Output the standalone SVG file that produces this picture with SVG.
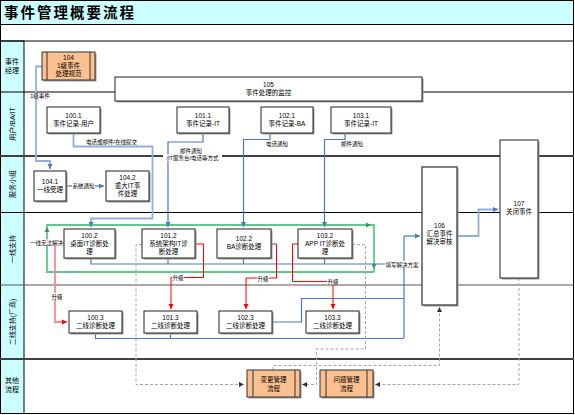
<svg xmlns="http://www.w3.org/2000/svg" width="575" height="415" viewBox="0 0 575 415">
<defs>
<style>
text{font-family:"Liberation Sans","Noto Sans CJK SC",sans-serif;fill:#000}
.t{font-size:6.5px;text-anchor:middle}
.l{font-size:5.5px;text-anchor:middle}
.ln{font-size:7px;text-anchor:middle}
.box{fill:#fff;stroke:#222;stroke-width:1}
.sh{fill:#9a9a9a}
.org{fill:#fac08f;stroke:#333;stroke-width:1}
.blu{fill:none;stroke:#4a78c2;stroke-width:1.2}
.lbl{fill:none;stroke:#8fb0dc;stroke-width:1.8}
.grn{fill:none;stroke:#5ccb86;stroke-width:1.8}
.red{fill:none;stroke:#f00;stroke-width:1}
.pnk{fill:none;stroke:#f88;stroke-width:1.8}
.dsh{fill:none;stroke:#a6a6a6;stroke-width:1;stroke-dasharray:3 2}
.bg{fill:#fff}
</style>
<marker id="ab" markerWidth="6" markerHeight="6" refX="5" refY="3" orient="auto" markerUnits="userSpaceOnUse"><path d="M0,0.5 L5,3 L0,5.5z" fill="#4a78c2"/></marker>
<marker id="ar" markerWidth="6" markerHeight="6" refX="5" refY="3" orient="auto" markerUnits="userSpaceOnUse"><path d="M0,0.5 L5,3 L0,5.5z" fill="#f00"/></marker>
<marker id="ad" markerWidth="6" markerHeight="6" refX="5" refY="3" orient="auto" markerUnits="userSpaceOnUse"><path d="M0,0.5 L5,3 L0,5.5z" fill="#333"/></marker>
</defs>

<!-- frame and lanes -->
<g id="frame">
<rect x="0.5" y="0.5" width="573" height="413" fill="#fff" stroke="#000"/>
<rect x="0.5" y="0.5" width="573" height="24" fill="#ccffff" stroke="#000"/>
<text x="4" y="18" style="font-size:14.5px;font-weight:bold;letter-spacing:2px">事件管理概要流程</text>
<rect x="0.5" y="41" width="23.5" height="372.5" fill="#ccffff" stroke="#000"/>
<line x1="0" y1="41" x2="574" y2="41" stroke="#000"/>
<line x1="0" y1="92" x2="574" y2="92" stroke="#000"/>
<line x1="0" y1="156" x2="574" y2="156" stroke="#404040" stroke-width="2"/>
<line x1="0" y1="212.5" x2="574" y2="212.5" stroke="#000"/>
<line x1="0" y1="285" x2="574" y2="285" stroke="#555" stroke-width="1.2"/>
<line x1="0" y1="359" x2="574" y2="359" stroke="#404040" stroke-width="2"/>
<text class="ln" x="12" y="64">事件</text>
<text class="ln" x="12" y="73">经理</text>
<text class="ln" transform="translate(14.5,124) rotate(-90)">用户/BA/IT</text>
<text class="ln" transform="translate(14.5,184) rotate(-90)">服务小组</text>
<text class="ln" transform="translate(14.5,249) rotate(-90)">一线支持</text>
<text class="ln" transform="translate(14.5,322) rotate(-90)">二线支持(厂商)</text>
<text class="ln" x="12" y="383">其他</text>
<text class="ln" x="12" y="392">流程</text>
</g>

<!-- connectors -->
<g id="connectors">
<!-- green loop -->
<path class="grn" d="M374,272 H47 V225 H374 V272"/>
<path d="M44.5,232 L47,227 L49.5,232z" fill="#2f9a5a"/>
<path d="M371.5,264 L374,269 L376.5,264z" fill="#2f9a5a"/>
<path d="M366,222.5 L371,225 L366,227.5z" fill="#2f9a5a"/>
<!-- light blue -->
<path class="lbl" d="M42,66.5 H36 V161 H50 V169" marker-end="url(#ab)"/>
<path class="lbl" d="M73.5,133 V146.5 H152.5 V218.5 H91 V227" marker-end="url(#ab)"/>
<path class="lbl" d="M66,186 H104" marker-end="url(#ab)"/>
<path class="lbl" d="M457,236 H478.5 V209.5 H498" marker-end="url(#ab)"/>
<!-- blue from records -->
<path class="blu" d="M203,133 V142 H168 V227" marker-end="url(#ab)"/>
<path class="blu" d="M270,133 V139.5 H243.5 V227" marker-end="url(#ab)"/>
<path class="blu" d="M345,133 V139.5 H324.5 V227" marker-end="url(#ab)"/>
<!-- lane 4 solution line -->
<path class="blu" d="M91,258 V264 H404"/>
<path class="blu" d="M168,258 V264 M243.5,258 V264 M324.5,258 V264"/>
<path class="blu" d="M404,264 V338 M404,236 V264"/>
<path class="blu" d="M404,236 H420" marker-end="url(#ab)"/>
<!-- lane 5 line -->
<path class="blu" d="M95.5,333 V338.5 H404 M170.5,333 V338.5"/>
<path class="blu" d="M272,322 H301.5 V298.5 H404"/>
<!-- red escalations -->
<path class="pnk" d="M64,243 H55 V322 H67" marker-end="url(#ar)"/>
<path class="red" d="M195,244 H203.5 V277.5 H171 V309" marker-end="url(#ar)"/>
<path class="red" d="M271,244 H276.5 V278 H246 V309" marker-end="url(#ar)"/>
<path class="red" d="M298,244 H292.5 V281.5 H333 V309" marker-end="url(#ar)"/>
<!-- grey dashed -->
<path class="dsh" d="M142,244.5 H136 V384.5 H244" marker-end="url(#ad)"/>
<path class="dsh" d="M352,244.5 H365.5 V349 H316.5 V384.5 H302" marker-end="url(#ad)"/>
<path class="dsh" d="M519,278 V384.5 H375" marker-end="url(#ad)"/>
<path class="dsh" d="M273,370 V365.5 H439.5 V307" marker-end="url(#ad)"/>
<!-- labels -->
<rect class="bg" x="30" y="93" width="20" height="5.5"/>
<text class="l" x="40" y="97.5">1级事件</text>
<text class="l" x="111.5" y="143.5">电话或邮件/在线提交</text>
<rect class="bg" x="180" y="147.5" width="22" height="6"/>
<text class="l" x="191" y="153">邮件通知</text>
<rect class="bg" x="163" y="154.5" width="59" height="6"/>
<text class="l" x="192.5" y="160">/IT服务台/电话等方式</text>
<text class="l" x="277" y="146">电话通知</text>
<text class="l" x="352" y="146">邮件通知</text>
<rect class="bg" x="72" y="182.5" width="23" height="6"/>
<text class="l" x="83.5" y="188">系统通知</text>
<rect class="bg" x="30" y="239.5" width="33" height="6"/>
<text class="l" x="46.5" y="245">一线无法解决</text>
<rect class="bg" x="51" y="293" width="12" height="6"/>
<text class="l" x="57" y="298.5">升级</text>
<rect class="bg" x="172" y="274.5" width="12" height="6"/>
<text class="l" x="178" y="280">升级</text>
<rect class="bg" x="257" y="275" width="12" height="6"/>
<text class="l" x="263" y="280.5">升级</text>
<rect class="bg" x="327" y="278.5" width="12" height="6"/>
<text class="l" x="333" y="284">升级</text>
<rect class="bg" x="385" y="261" width="34" height="6"/>
<text class="l" x="402" y="266.5">填写解决方案</text>
</g>

<!-- nodes -->
<g id="n104"><rect class="sh" x="43.5" y="53.5" width="53" height="28"/><rect class="org" x="42" y="52" width="53" height="28"/><line x1="47" y1="52" x2="47" y2="80" stroke="#333"/><line x1="90" y1="52" x2="90" y2="80" stroke="#333"/><text class="t" x="68.5" y="60">104</text><text class="t" x="68.5" y="68">1级事件</text><text class="t" x="68.5" y="76">处理规范</text></g>
<g id="n105"><rect class="sh" x="116.5" y="78.5" width="307" height="24"/><rect class="box" x="115" y="77" width="307" height="24"/><text class="t" x="268.5" y="87">105</text><text class="t" x="268.5" y="95">事件处理的监控</text></g>
<g id="n100_1"><rect class="sh" x="48.5" y="108.5" width="53" height="26"/><rect class="box" x="47" y="107" width="53" height="26"/><text class="t" x="73.5" y="118">100.1</text><text class="t" x="73.5" y="126">事件记录-用户</text></g>
<g id="n101_1"><rect class="sh" x="178.5" y="108.5" width="52" height="26"/><rect class="box" x="177" y="107" width="52" height="26"/><text class="t" x="203" y="118">101.1</text><text class="t" x="203" y="126">事件记录-IT</text></g>
<g id="n102_1"><rect class="sh" x="262.5" y="108.5" width="52" height="26"/><rect class="box" x="261" y="107" width="52" height="26"/><text class="t" x="287" y="118">102.1</text><text class="t" x="287" y="126">事件记录-BA</text></g>
<g id="n103_1"><rect class="sh" x="332.5" y="108.5" width="60" height="26"/><rect class="box" x="331" y="107" width="60" height="26"/><text class="t" x="361" y="118">103.1</text><text class="t" x="361" y="126">事件记录-IT</text></g>
<g id="n104_1"><rect class="sh" x="35.5" y="172.5" width="32" height="30"/><rect class="box" x="34" y="171" width="32" height="30"/><text class="t" x="50" y="184">104.1</text><text class="t" x="50" y="192">一线受理</text></g>
<g id="n104_2"><rect class="sh" x="107.5" y="172.5" width="43" height="30"/><rect class="box" x="106" y="171" width="43" height="30"/><text class="t" x="127.5" y="180">104.2</text><text class="t" x="127.5" y="188">重大IT事</text><text class="t" x="127.5" y="196">件处理</text></g>
<g id="n100_2"><rect class="sh" x="65.5" y="230.5" width="51" height="29"/><rect class="box" x="64" y="229" width="51" height="29"/><text class="t" x="89.5" y="238">100.2</text><text class="t" x="89.5" y="246">桌面IT诊断处</text><text class="t" x="89.5" y="254">理</text></g>
<g id="n101_2"><rect class="sh" x="143.5" y="230.5" width="53" height="29"/><rect class="box" x="142" y="229" width="53" height="29"/><text class="t" x="168.5" y="238">101.2</text><text class="t" x="168.5" y="246">系统架构IT诊</text><text class="t" x="168.5" y="254">断处理</text></g>
<g id="n102_2"><rect class="sh" x="218.5" y="230.5" width="54" height="29"/><rect class="box" x="217" y="229" width="54" height="29"/><text class="t" x="244" y="241">102.2</text><text class="t" x="244" y="249">BA诊断处理</text></g>
<g id="n103_2"><rect class="sh" x="299.5" y="230.5" width="54" height="29"/><rect class="box" x="298" y="229" width="54" height="29"/><text class="t" x="325" y="238">103.2</text><text class="t" x="325" y="246">APP IT诊断处</text><text class="t" x="325" y="254">理</text></g>
<g id="n100_3"><rect class="sh" x="70.5" y="312.5" width="53" height="22"/><rect class="box" x="69" y="311" width="53" height="22"/><text class="t" x="95.5" y="320">100.3</text><text class="t" x="95.5" y="328">二线诊断处理</text></g>
<g id="n101_3"><rect class="sh" x="145.5" y="312.5" width="53" height="22"/><rect class="box" x="144" y="311" width="53" height="22"/><text class="t" x="170.5" y="320">101.3</text><text class="t" x="170.5" y="328">二线诊断处理</text></g>
<g id="n102_3"><rect class="sh" x="220.5" y="312.5" width="53" height="22"/><rect class="box" x="219" y="311" width="53" height="22"/><text class="t" x="245.5" y="320">102.3</text><text class="t" x="245.5" y="328">二线诊断处理</text></g>
<g id="n103_3"><rect class="sh" x="307.5" y="312.5" width="53" height="22"/><rect class="box" x="306" y="311" width="53" height="22"/><text class="t" x="332.5" y="320">103.3</text><text class="t" x="332.5" y="328">二线诊断处理</text></g>
<g id="n106"><rect class="sh" x="423.5" y="168.5" width="35" height="138"/><rect x="422" y="167" width="35" height="138" fill="#fff" stroke="#555" stroke-width="1.5"/><text class="t" x="439.5" y="228">106</text><text class="t" x="439.5" y="236">汇总事件</text><text class="t" x="439.5" y="244">解决审核</text></g>
<g id="n107"><rect class="sh" x="501.5" y="141.5" width="38" height="138"/><rect class="box" x="500" y="140" width="38" height="138"/><text class="t" x="519" y="206">107</text><text class="t" x="519" y="214">关闭事件</text></g>
<g id="nchange"><rect class="sh" x="248.5" y="371.5" width="53" height="27"/><rect class="org" x="247" y="370" width="53" height="27"/><line x1="253" y1="370" x2="253" y2="397" stroke="#333"/><line x1="295" y1="370" x2="295" y2="397" stroke="#333"/><text class="t" x="273.5" y="382">变更管理</text><text class="t" x="273.5" y="391">流程</text></g>
<g id="nproblem"><rect class="sh" x="321.5" y="371.5" width="53" height="27"/><rect class="org" x="320" y="370" width="53" height="27"/><line x1="326" y1="370" x2="326" y2="397" stroke="#333"/><line x1="367" y1="370" x2="367" y2="397" stroke="#333"/><text class="t" x="346.5" y="382">问题管理</text><text class="t" x="346.5" y="391">流程</text></g>
</svg>
